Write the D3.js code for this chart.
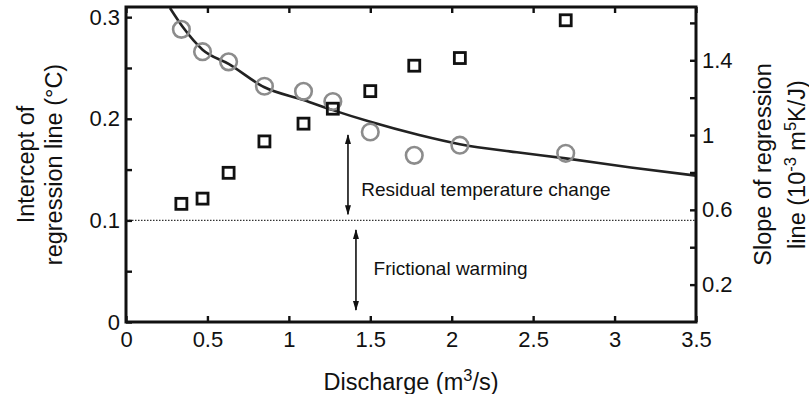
<!DOCTYPE html>
<html>
<head>
<meta charset="utf-8">
<script src="https://cdn.jsdelivr.net/npm/d3@7"></script>
<style>
  html, body { margin: 0; padding: 0; background: #fff; }
  svg { display: block; font-family: "Liberation Sans", Arial, Helvetica, sans-serif; }
</style>
</head>
<body>
<svg id="chart" width="809" height="394"></svg>
<script>
// ---- data ----
const discharge = [0.34, 0.47, 0.63, 0.85, 1.09, 1.27, 1.50, 1.77, 2.05, 2.70];
const intercept = [0.288, 0.266, 0.256, 0.232, 0.227, 0.217, 0.187, 0.164, 0.174, 0.166];
const slope     = [0.632, 0.660, 0.798, 0.966, 1.061, 1.141, 1.235, 1.371, 1.412, 1.614];
const fitX = [0.27, 0.35, 0.47, 0.63, 0.85, 1.09, 1.27, 1.50, 1.80, 2.05, 2.40, 2.70, 3.10, 3.50];
const fitY = [0.309, 0.290, 0.268, 0.254, 0.231, 0.2185, 0.2085, 0.197, 0.184, 0.175, 0.167, 0.161, 0.152, 0.144];
const frictionalLevel = 0.1;
const xTicks = [0, 0.5, 1, 1.5, 2, 2.5, 3, 3.5];
const yLeftTicks = [0, 0.05, 0.1, 0.15, 0.2, 0.25, 0.3];
const yLeftLabels = [0, 0.1, 0.2, 0.3];
const yRightTicks = [0.2, 0.4, 0.6, 0.8, 1.0, 1.2, 1.4, 1.6];
const yRightLabels = [0.2, 0.6, 1.0, 1.4];
const xDomain = [0, 3.5];
const yLeftDomain = [0, 0.31];
const yRightDomain = [0, 1.685];
// annotations in data units (x, left-axis value)
const residualArrow = {x: 1.363, y1: 0.184, y2: 0.106};
const frictionArrow = {x: 1.412, y1: 0.0906, y2: 0.0118};
const residualText = {x: 1.445, y: 0.124, text: "Residual temperature change"};
const frictionText = {x: 1.52, y: 0.046, text: "Frictional warming"};

// ---- layout ----
const svg = d3.select("#chart");
const L = 126, R = 696, T = 7, B = 322;
const x = d3.scaleLinear().domain(xDomain).range([L, R]);
const yL = d3.scaleLinear().domain(yLeftDomain).range([B, T]);
const yR = d3.scaleLinear().domain(yRightDomain).range([B, T]);
const fmt = d => d === 0 ? "0" : String(+d.toFixed(2));
const tickFont = 22, titleFont = 23.5, annFont = 19;

svg.append("defs").append("clipPath").attr("id", "clip")
  .append("rect").attr("x", L).attr("y", T).attr("width", R - L).attr("height", B - T);

// arrow marker
const defs = svg.select("defs");
defs.append("marker").attr("id", "ah").attr("viewBox", "0 0 10 10")
  .attr("refX", 9).attr("refY", 5).attr("markerWidth", 10).attr("markerHeight", 10)
  .attr("markerUnits", "userSpaceOnUse").attr("orient", "auto-start-reverse")
  .append("path").attr("d", "M0,2 L10,5 L0,8 Z").attr("fill", "#111");

// dotted frictional line
svg.append("line")
  .attr("x1", x(xDomain[0])).attr("x2", x(xDomain[1]))
  .attr("y1", yL(frictionalLevel)).attr("y2", yL(frictionalLevel))
  .attr("stroke", "#333").attr("stroke-width", 1.2).attr("stroke-dasharray", "1.5,1.5");

// fitted curve
svg.append("path")
  .datum(fitX.map((d, i) => [d, fitY[i]]))
  .attr("clip-path", "url(#clip)")
  .attr("fill", "none").attr("stroke", "#222").attr("stroke-width", 2.6)
  .attr("d", d3.line().x(d => x(d[0])).y(d => yL(d[1])).curve(d3.curveMonotoneX));

// circles (intercept, left axis)
svg.append("g").selectAll("circle").data(discharge).join("circle")
  .attr("cx", d => x(d)).attr("cy", (d, i) => yL(intercept[i]))
  .attr("r", 8.3).attr("fill", "none").attr("stroke", "#8c8c8c").attr("stroke-width", 2.6);

// squares (slope, right axis)
const sq = 11;
svg.append("g").selectAll("rect").data(discharge).join("rect")
  .attr("x", d => x(d) - sq / 2).attr("y", (d, i) => yR(slope[i]) - sq / 2)
  .attr("width", sq).attr("height", sq)
  .attr("fill", "none").attr("stroke", "#111").attr("stroke-width", 2.8);

// annotation arrows
[residualArrow, frictionArrow].forEach(a => {
  svg.append("line")
    .attr("x1", x(a.x)).attr("x2", x(a.x)).attr("y1", yL(a.y1)).attr("y2", yL(a.y2))
    .attr("stroke", "#111").attr("stroke-width", 1.6)
    .attr("marker-start", "url(#ah)").attr("marker-end", "url(#ah)");
});
[residualText, frictionText].forEach(t => {
  svg.append("text").attr("x", x(t.x)).attr("y", yL(t.y))
    .attr("font-size", annFont).attr("fill", "#111").text(t.text);
});

// ---- axes ----
const tickLen = 6;
const gx = svg.append("g").attr("transform", `translate(0,${B})`)
  .call(d3.axisBottom(x).tickValues(xTicks).tickSize(-tickLen).tickPadding(8).tickFormat(fmt));
const gxTop = svg.append("g").attr("transform", `translate(0,${T})`)
  .call(d3.axisTop(x).tickValues(xTicks).tickSize(-tickLen).tickFormat(""));
const gyl = svg.append("g").attr("transform", `translate(${L},0)`)
  .call(d3.axisLeft(yL).tickValues(yLeftTicks).tickSize(-tickLen).tickPadding(6)
    .tickFormat(d => yLeftLabels.some(v => Math.abs(v - d) < 1e-9) ? fmt(d) : ""));
const gyr = svg.append("g").attr("transform", `translate(${R},0)`)
  .call(d3.axisRight(yR).tickValues(yRightTicks).tickSize(-tickLen).tickPadding(6)
    .tickFormat(d => yRightLabels.some(v => Math.abs(v - d) < 1e-9) ? fmt(d) : ""));

[gx, gxTop, gyl, gyr].forEach(g => {
  g.select(".domain").remove();
  g.selectAll(".tick line").attr("stroke", "#111").attr("stroke-width", 2.4);
  g.selectAll(".tick text").attr("font-size", tickFont).attr("fill", "#111")
    .attr("font-family", "'Liberation Sans', Arial, sans-serif");
});
gx.selectAll(".tick text").attr("dy", "0.75em");

// frame
svg.append("rect").attr("x", L).attr("y", T).attr("width", R - L).attr("height", B - T)
  .attr("fill", "none").attr("stroke", "#111").attr("stroke-width", 3);

// ---- titles ----
const xt = svg.append("text").attr("x", (L + R) / 2).attr("y", 390)
  .attr("text-anchor", "middle").attr("font-size", titleFont).attr("fill", "#111");
xt.append("tspan").text("Discharge (m");
xt.append("tspan").attr("font-size", titleFont * 0.7).attr("dy", -9).text("3");
xt.append("tspan").attr("dy", 9).text("/s)");

const cy = (T + B) / 2;
const ylt = svg.append("text").attr("transform", `translate(34,${cy}) rotate(-90)`)
  .attr("text-anchor", "middle").attr("font-size", titleFont).attr("fill", "#111");
ylt.append("tspan").attr("x", 0).attr("dy", 0).text("Intercept of");
ylt.append("tspan").attr("x", 0).attr("dy", 28).text("regression line (°C)");

const yrt = svg.append("text").attr("transform", `translate(771,${cy}) rotate(-90)`)
  .attr("text-anchor", "middle").attr("font-size", titleFont).attr("fill", "#111");
yrt.append("tspan").attr("x", 0).attr("dy", 0).text("Slope of regression");
const l2 = yrt.append("tspan").attr("x", 0).attr("dy", 33);
yrt.append("tspan").attr("x", 0).attr("dy", 0);
// build line 2 with superscripts via a separate text to keep centering
l2.remove();
const yrt2 = svg.append("text").attr("transform", `translate(805,${cy}) rotate(-90)`)
  .attr("text-anchor", "middle").attr("font-size", titleFont).attr("fill", "#111");
yrt2.append("tspan").text("line (10");
yrt2.append("tspan").attr("font-size", titleFont * 0.7).attr("dy", -9).text("-3");
yrt2.append("tspan").attr("dy", 9).text(" m");
yrt2.append("tspan").attr("font-size", titleFont * 0.7).attr("dy", -9).text("5");
yrt2.append("tspan").attr("dy", 9).text("K/J)");
</script>
</body>
</html>
